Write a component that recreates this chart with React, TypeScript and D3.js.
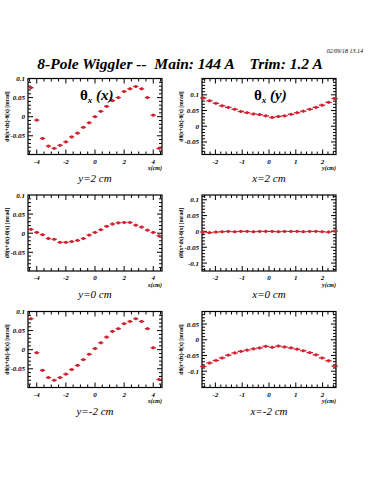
import React from 'react';
import * as d3 from 'd3';

// ---- data ----
const xPositions = [-4.4, -4.0, -3.6, -3.2, -2.8, -2.4, -2.0, -1.6, -1.2, -0.8, -0.4, 0.0, 0.4, 0.8, 1.2, 1.6, 2.0, 2.4, 2.8, 3.2, 3.6, 4.0, 4.4];
const thetaXAtY2 = [0.076, -0.009, -0.057, -0.077, -0.083, -0.075, -0.066, -0.053, -0.043, -0.028, -0.016, 0.000, 0.014, 0.027, 0.042, 0.050, 0.066, 0.073, 0.079, 0.073, 0.050, 0.004, -0.083];
const thetaXAtY0 = [0.010, 0.002, -0.004, -0.014, -0.016, -0.024, -0.024, -0.022, -0.019, -0.014, -0.005, 0.002, 0.009, 0.018, 0.024, 0.027, 0.028, 0.028, 0.021, 0.016, 0.008, 0.002, -0.007];
const thetaXAtYm2 = [0.081, -0.008, -0.054, -0.073, -0.080, -0.073, -0.064, -0.052, -0.041, -0.026, -0.012, 0.003, 0.018, 0.033, 0.048, 0.055, 0.068, 0.074, 0.081, 0.074, 0.055, 0.005, -0.078];

const yPositions = [-2.45, -2.22, -1.98, -1.75, -1.52, -1.28, -1.05, -0.82, -0.58, -0.35, -0.12, 0.12, 0.35, 0.58, 0.82, 1.05, 1.28, 1.52, 1.75, 1.98, 2.22, 2.45];
const thetaYAtX2 = [0.090, 0.081, 0.073, 0.065, 0.060, 0.054, 0.047, 0.043, 0.039, 0.037, 0.033, 0.028, 0.031, 0.033, 0.038, 0.043, 0.048, 0.054, 0.060, 0.067, 0.076, 0.088];
const thetaYAtX0 = [-0.002, -0.004, -0.002, -0.001, 0.000, -0.001, 0.000, 0.000, -0.001, 0.000, 0.000, 0.000, -0.001, 0.000, 0.000, 0.000, -0.001, 0.000, 0.000, -0.001, -0.002, 0.001];
const thetaYAtXm2 = [-0.085, -0.074, -0.066, -0.058, -0.049, -0.042, -0.037, -0.033, -0.029, -0.026, -0.021, -0.024, -0.020, -0.023, -0.026, -0.030, -0.035, -0.041, -0.048, -0.058, -0.067, -0.084];

const leftCaptions = ['y=2 cm', 'y=0 cm', 'y=-2 cm'];
const rightCaptions = ['x=2 cm', 'x=0 cm', 'x=-2 cm'];
const leftXTicks = [-4, -2, 0, 2, 4];
const rightXTicks = [-2, -1, 0, 1, 2];
const yMajorTicks = [-0.1, -0.05, 0, 0.05, 0.1];

const titleText = '8-Pole Wiggler --  Main: 144 A    Trim: 1.2 A';
const dateText = '02/09/18  13.14';

const RED = '#d0202e';
const SERIF = '"Liberation Serif", "DejaVu Serif", serif';

type PanelProps = {
  x0: number; y0: number; w: number; h: number;
  xDomain: [number, number]; yDomain: [number, number];
  xTicks: number[]; xMinor: number;
  xs: number[]; ys: number[];
  xTitle: string; caption: string; title?: string; titleVar?: string;
  half: number;
};

function fmt(v: number) {
  if (Math.abs(v) < 1e-9) return '0';
  return (v < 0 ? '-' : '') + String(+Math.abs(v).toFixed(2));
}

function Panel(p: PanelProps) {
  const x = d3.scaleLinear().domain(p.xDomain).range([p.x0, p.x0 + p.w]);
  const y = d3.scaleLinear().domain(p.yDomain).range([p.y0 + p.h, p.y0]);
  const xMinorTicks = d3.range(Math.ceil(p.xDomain[0] / p.xMinor) * p.xMinor, p.xDomain[1] + 1e-9, p.xMinor)
    .map(v => +v.toFixed(3));
  const yMinorTicks = d3.range(-0.2, 0.2001, 0.01).map(v => +v.toFixed(3))
    .filter(v => v > p.yDomain[0] && v < p.yDomain[1]);
  const yMaj = yMajorTicks.filter(v => v >= p.yDomain[0] - 1e-9 && v <= p.yDomain[1] + 1e-9);
  const bottom = p.y0 + p.h;
  const right = p.x0 + p.w;
  const isMajorX = (v: number) => p.xTicks.some(t => Math.abs(t - v) < 1e-6);
  const isMajorY = (v: number) => yMaj.some(t => Math.abs(t - v) < 1e-6);
  return (
    <g>
      <rect x={p.x0} y={p.y0} width={p.w} height={p.h} fill="white" stroke="black" strokeWidth={1.2} />
      {xMinorTicks.map((v, i) => {
        const L = isMajorX(v) ? 5 : 3;
        return (
          <g key={'xt' + i} stroke="black" strokeWidth={1}>
            <line x1={x(v)} x2={x(v)} y1={bottom} y2={bottom - L} />
            <line x1={x(v)} x2={x(v)} y1={p.y0} y2={p.y0 + L} />
          </g>
        );
      })}
      {yMinorTicks.map((v, i) => {
        const L = isMajorY(v) ? 5 : 3;
        return (
          <g key={'yt' + i} stroke="black" strokeWidth={1}>
            <line x1={p.x0} x2={p.x0 + L} y1={y(v)} y2={y(v)} />
            <line x1={right} x2={right - L} y1={y(v)} y2={y(v)} />
          </g>
        );
      })}
      {p.xTicks.map((v, i) => (
        <text key={'xl' + i} x={x(v)} y={bottom + 9} fontSize={7} fontStyle="italic" fontWeight="bold"
          textAnchor="middle" fontFamily={SERIF}>{fmt(v)}</text>
      ))}
      <text x={right} y={bottom + 15.5} fontSize={6} fontStyle="italic" fontWeight="bold" textAnchor="end" fontFamily={SERIF}>{p.xTitle}</text>
      {yMaj.map((v, i) => (
        <text key={'yl' + i} x={p.x0 - 3} y={y(v) + 2.5} fontSize={7} fontStyle="italic" fontWeight="bold"
          textAnchor="end" fontFamily={SERIF}>{fmt(v)}</text>
      ))}
      <text transform={`translate(${p.x0 - 19},${p.y0 + p.h / 2}) rotate(-90)`} fontSize={5.5} textAnchor="middle"
        fontFamily={SERIF} fontWeight="bold">dθ(x+dx)-θ(x) [mrad]</text>
      {p.xs.map((xv, i) => {
        const cx = x(xv), cy = y(p.ys[i]);
        return (
          <g key={'pt' + i}>
            <line x1={cx - p.half} x2={cx + p.half} y1={cy} y2={cy} stroke={RED} strokeWidth={1.3} />
            <line x1={cx} x2={cx} y1={cy - 1.5} y2={cy + 1.5} stroke={RED} strokeWidth={1} />
            <rect x={cx - 1.3} y={cy - 1.3} width={2.6} height={2.6} fill={RED} />
          </g>
        );
      })}
      {p.title && (
        <text x={p.x0 + p.w / 2 - 15} y={p.y0 + 21} fontSize={15} fontFamily={SERIF} fontWeight="bold">
          θ<tspan fontSize={9} dy={3} fontStyle="italic">x</tspan>
          <tspan dy={-3} fontStyle="italic"> ({p.titleVar})</tspan>
        </text>
      )}
      <text x={p.x0 + p.w / 2} y={bottom + 27} fontSize={11} fontStyle="italic" textAnchor="middle" fontFamily={SERIF}>{p.caption}</text>
    </g>
  );
}

export default function App() {
  const rows = [78.5, 195, 311.5];
  const h = 76;
  const leftX = 28, rightX = 202, w = 134;
  const leftData = [thetaXAtY2, thetaXAtY0, thetaXAtYm2];
  const rightData = [thetaYAtX2, thetaYAtX0, thetaYAtXm2];
  const rightDomains: [number, number][] = [[-0.09, 0.152], [-0.125, 0.115], [-0.152, 0.09]];
  return (
    <svg width={375} height={500} style={{ position: 'absolute', left: 0, top: 0, background: 'white' }}>
      <rect x={0} y={0} width={375} height={500} fill="white" />
      <text x={363} y={53} fontSize={6} fontStyle="italic" textAnchor="end" fontFamily={SERIF}>{dateText}</text>
      <text x={180} y={69} fontSize={15.5} fontStyle="italic" fontWeight="bold" textAnchor="middle" fontFamily={SERIF}
        style={{ whiteSpace: 'pre' }}>{titleText}</text>
      {rows.map((ry, r) => (
        <g key={'r' + r}>
          <Panel x0={leftX} y0={ry} w={w} h={h} xDomain={[-4.6, 4.6]} yDomain={[-0.099, 0.1]}
            xTicks={leftXTicks} xMinor={0.5} xs={xPositions} ys={leftData[r]} xTitle="x(cm)"
            caption={leftCaptions[r]} title={r === 0 ? 'x' : undefined} titleVar="x" half={2.6} />
          <Panel x0={rightX} y0={ry} w={w} h={h} xDomain={[-2.5, 2.5]} yDomain={rightDomains[r]}
            xTicks={rightXTicks} xMinor={0.2} xs={yPositions} ys={rightData[r]} xTitle="y(cm)"
            caption={rightCaptions[r]} title={r === 0 ? 'y' : undefined} titleVar="y" half={3.2} />
        </g>
      ))}
    </svg>
  );
}
